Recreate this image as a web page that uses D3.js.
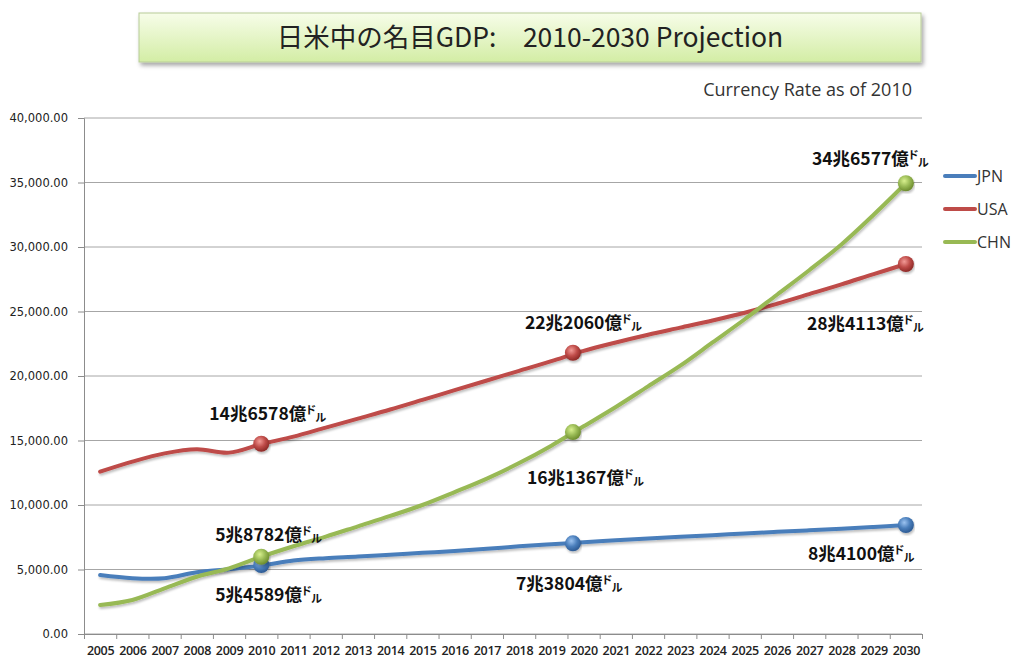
<!DOCTYPE html>
<html><head><meta charset="utf-8">
<script src="https://cdn.jsdelivr.net/npm/d3@7/dist/d3.min.js"></script>
<style>
html,body{margin:0;padding:0;background:#fff;}
svg{display:block;}
</style></head>
<body>
<svg id="chart" width="1014" height="662"></svg>
<script>
// ---------- data ----------
const years = d3.range(2005, 2031);
const jpn = [4570,4330,4330,4780,5020,5300,5700,5880,6000,6150,6290,6430,6600,6800,6960,7110,7260,7400,7530,7660,7790,7920,8040,8160,8300,8450];
const usa = [12580,13360,14000,14320,14060,14720,15300,16000,16700,17400,18150,18900,19650,20400,21150,21950,22600,23200,23750,24300,24900,25600,26350,27100,27900,28680];
const chn = [2250,2640,3540,4440,5090,5990,6800,7550,8350,9150,10000,11000,12050,13250,14600,16100,17600,19200,20800,22600,24400,26300,28200,30200,32500,34940];
const seriesNames = ["JPN","USA","CHN"];
const yTicks = [0,5000,10000,15000,20000,25000,30000,35000,40000];
// highlighted points (year position, value) and their labels
const markerYears = [2010, 2019.67, 2030];
const jpnMarks = [5350, 7030, 8450];
const usaMarks = [14750, 21800, 28680];
const chnMarks = [5990, 15650, 34940];
const jpnLabels = ["5兆4589億", "7兆3804億", "8兆4100億"];
const usaLabels = ["14兆6578億", "22兆2060億", "28兆4113億"];
const chnLabels = ["5兆8782億", "16兆1367億", "34兆6577億"];
const titleText = "日米中の名目GDP:　2010-2030 Projection";
const subTitle = "Currency Rate as of 2010";

// ---------- styles / layout ----------
const colors = {JPN:"#4a7ebb", USA:"#be4b48", CHN:"#98b954"};
const light = {JPN:"#9cc3f0", USA:"#f29a96", CHN:"#d8f08e"};
const dark = {JPN:"#2d5b94", USA:"#8e2a27", CHN:"#6d8c2e"};
// label offsets relative to each marker [dx, dy baseline]
const labelOffsets = {
  JPN: [[-46, 36], [-57, 47], [-98, 35]],
  USA: [[-52, -24], [-48, -24], [-99, 66]],
  CHN: [[-46, -16], [-46, 52], [-94, -18]]
};

const svg = d3.select("#chart");
const M = {left:84, right:922, top:118, bottom:634};

const x = d3.scaleLinear().domain([2004.5, 2030.5]).range([M.left, M.right]);
const y = d3.scaleLinear().domain([0, 40000]).range([M.bottom, M.top]);

const defs = svg.append("defs");
const tg = defs.append("linearGradient").attr("id","titleGrad").attr("x1",0).attr("y1",0).attr("x2",0).attr("y2",1);
tg.append("stop").attr("offset","0%").attr("stop-color","#f7fde9");
tg.append("stop").attr("offset","100%").attr("stop-color","#d3eda5");
const sh = defs.append("filter").attr("id","boxShadow").attr("x","-5%").attr("y","-20%").attr("width","110%").attr("height","150%");
sh.append("feDropShadow").attr("dx",2).attr("dy",3).attr("stdDeviation",2).attr("flood-color","#000").attr("flood-opacity",0.35);
const lsh = defs.append("filter").attr("id","lineShadow").attr("x","-5%").attr("y","-5%").attr("width","110%").attr("height","120%");
lsh.append("feDropShadow").attr("dx",1).attr("dy",2).attr("stdDeviation",1.2).attr("flood-color","#000").attr("flood-opacity",0.25);
seriesNames.forEach(n => {
  const rg = defs.append("radialGradient").attr("id","mg"+n).attr("cx","40%").attr("cy","35%").attr("r","65%");
  rg.append("stop").attr("offset","0%").attr("stop-color", light[n]);
  rg.append("stop").attr("offset","55%").attr("stop-color", colors[n]);
  rg.append("stop").attr("offset","100%").attr("stop-color", dark[n]);
});

// title box
svg.append("rect").attr("x",139).attr("y",13).attr("width",782).attr("height",49)
  .attr("fill","url(#titleGrad)").attr("stroke","#b8cc98").attr("stroke-width",1)
  .attr("filter","url(#boxShadow)");
svg.append("text").attr("x",530).attr("y",47).attr("text-anchor","middle")
  .attr("font-family","'Noto Sans CJK JP', 'Open Sans', sans-serif").attr("font-size",26.5)
  .attr("fill","#222").text(titleText);
svg.append("text").attr("x",912).attr("y",96).attr("text-anchor","end")
  .attr("font-family","'Open Sans', 'Noto Sans', sans-serif").attr("font-size",18)
  .attr("fill","#333").text(subTitle);

// gridlines
svg.append("g").selectAll("line").data(yTicks).join("line")
  .attr("x1",M.left).attr("x2",M.right)
  .attr("y1",d=>y(d)).attr("y2",d=>y(d))
  .attr("stroke","#a6a6a6").attr("stroke-width",1);

// y axis
const yAxis = svg.append("g").attr("transform",`translate(${M.left},0)`)
  .call(d3.axisLeft(y).tickValues(yTicks).tickFormat(d3.format(",.2f")).tickSize(6).tickPadding(10));
yAxis.select(".domain").attr("stroke","#8c8c8c");
yAxis.selectAll(".tick line").attr("stroke","#8c8c8c");
yAxis.selectAll("text").attr("font-family","'DejaVu Sans', Verdana, sans-serif").attr("font-size",11.5).attr("fill","#222");

// x axis: tick marks between categories
const xTickPos = years.map(v=>v-0.5).concat([2030.5]);
const xAxis = svg.append("g").attr("transform",`translate(0,${M.bottom})`)
  .call(d3.axisBottom(x).tickValues(xTickPos).tickFormat("").tickSize(5).tickSizeOuter(0));
xAxis.select(".domain").attr("stroke","#8c8c8c");
xAxis.selectAll(".tick line").attr("stroke","#8c8c8c");
const xLab = svg.append("g").attr("transform",`translate(0,${M.bottom})`)
  .call(d3.axisBottom(x).tickValues(years).tickFormat(d3.format("d")).tickSize(0).tickPadding(12));
xLab.select(".domain").remove();
xLab.selectAll("text").attr("font-family","'Open Sans', sans-serif").attr("font-weight",600)
  .attr("font-size",12.5).attr("fill","#222").attr("letter-spacing","-0.3");

// lines
const dataBy = {JPN:jpn, USA:usa, CHN:chn};
const marksBy = {JPN:jpnMarks, USA:usaMarks, CHN:chnMarks};
const labelsBy = {JPN:jpnLabels, USA:usaLabels, CHN:chnLabels};
const line = d3.line().x((d,i)=>x(years[i])).y(d=>y(d)).curve(d3.curveCatmullRom.alpha(0.5));
const order = ["JPN","USA","CHN"];
order.forEach(n => {
  svg.append("path").datum(dataBy[n]).attr("d",line)
    .attr("fill","none").attr("stroke",colors[n]).attr("stroke-width",4)
    .attr("stroke-linecap","round").attr("stroke-linejoin","round")
    .attr("filter","url(#lineShadow)");
});
// markers
order.forEach(n => {
  svg.append("g").selectAll("circle").data(marksBy[n]).join("circle")
    .attr("cx",(d,i)=>x(markerYears[i])).attr("cy",d=>y(d)).attr("r",8)
    .attr("fill",`url(#mg${n})`).attr("filter","url(#lineShadow)");
});
// labels
order.forEach(n => {
  marksBy[n].forEach((v,i) => {
    const off = labelOffsets[n][i];
    const t = svg.append("text").attr("x", x(markerYears[i]) + off[0]).attr("y", y(v) + off[1])
      .attr("font-family","'Noto Sans CJK JP', sans-serif").attr("font-weight",700)
      .attr("font-size",17.5).attr("fill","#111");
    t.append("tspan").text(labelsBy[n][i]);
    t.append("tspan").attr("font-size",11).attr("dx",-1).attr("dy",-6).text("ド");
    t.append("tspan").attr("font-size",11).attr("dx",-1).attr("dy",8).text("ル");
  });
});

// legend
const lg = svg.append("g");
seriesNames.forEach((n,i) => {
  const yy = 176 + i*33;
  lg.append("line").attr("x1",945).attr("x2",975).attr("y1",yy).attr("y2",yy)
    .attr("stroke",colors[n]).attr("stroke-width",4).attr("stroke-linecap","round");
  lg.append("text").attr("x",977).attr("y",yy+6).attr("font-family","'Open Sans', sans-serif")
    .attr("font-size",16).attr("fill","#333").text(n);
});
</script>
</body></html>
